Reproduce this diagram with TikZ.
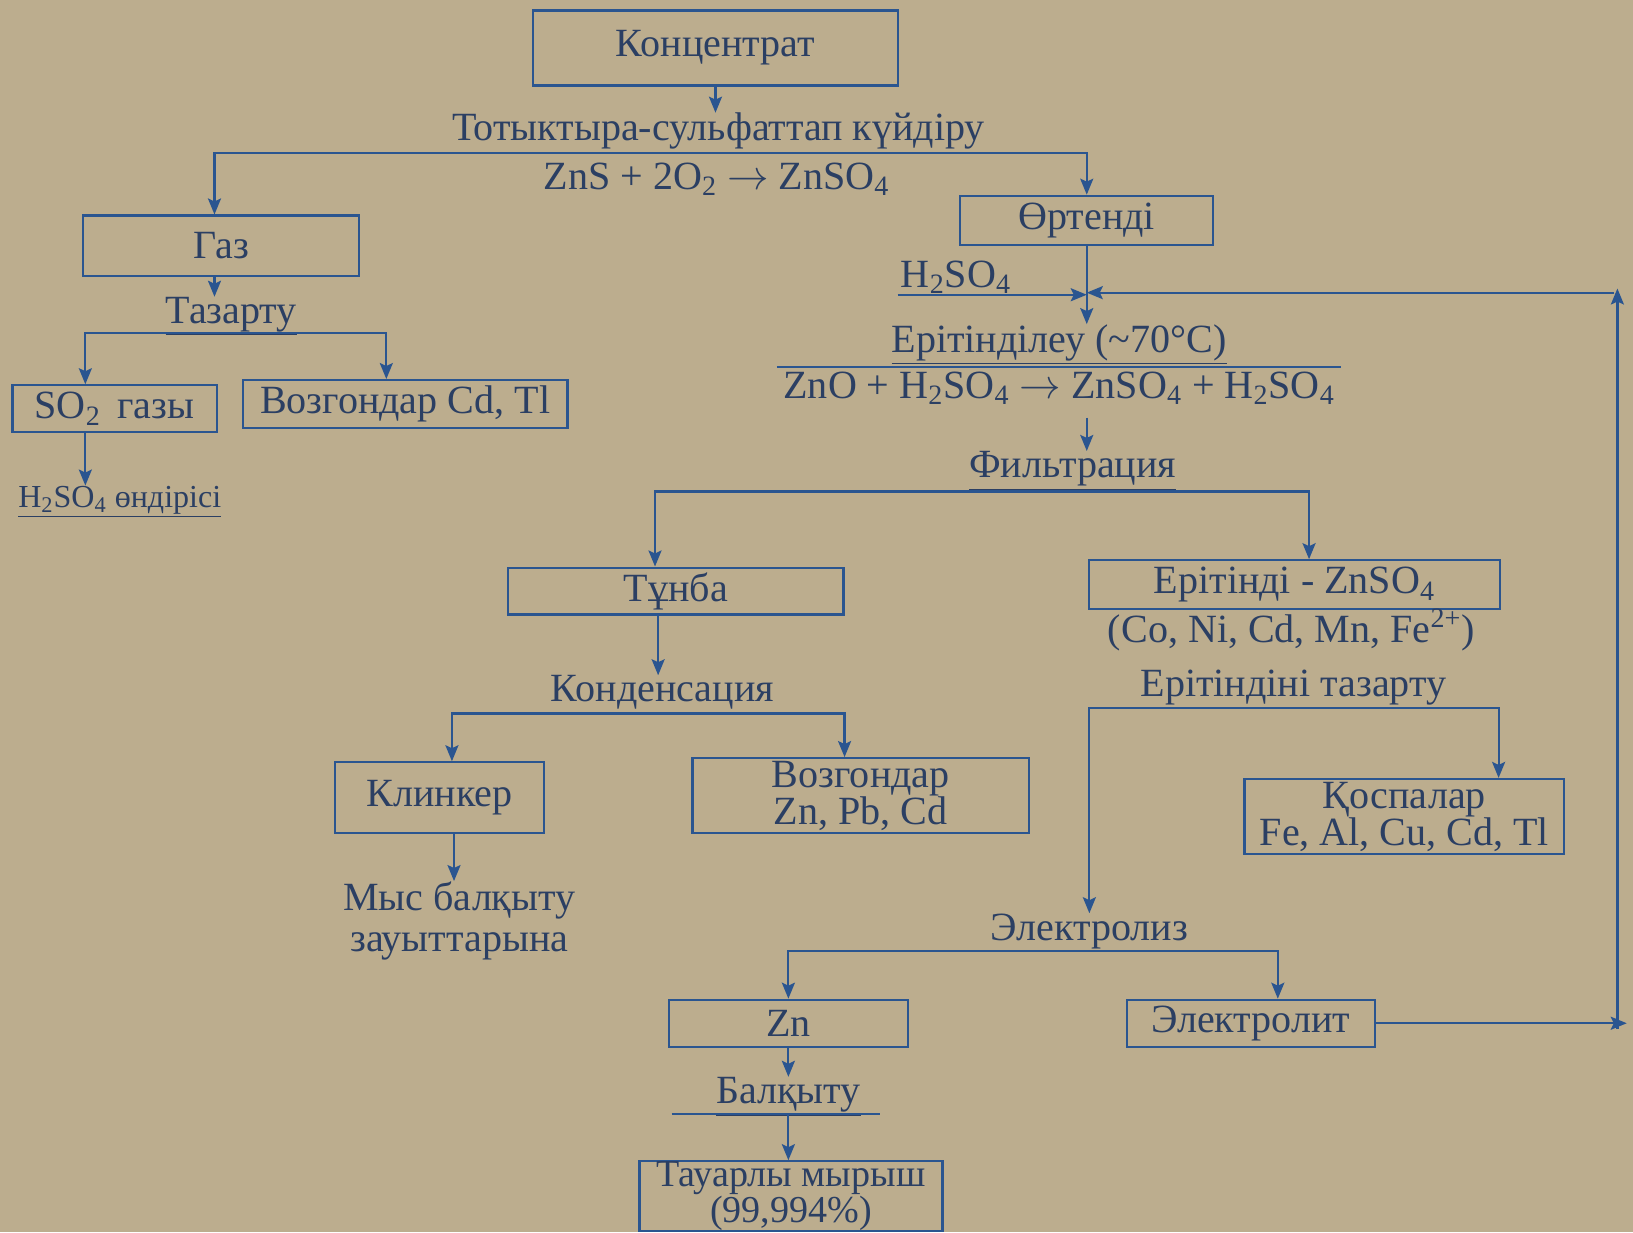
\documentclass[tikz,border=0pt]{standalone}
\usepackage{fontspec}
\setmainfont{Liberation Serif}
\usetikzlibrary{arrows.meta,calc}
\definecolor{bg}{HTML}{BCAD8E}
\definecolor{linec}{HTML}{2A5590}
\definecolor{textc}{HTML}{2B3F63}
\newcommand{\fsz}{\fontsize{20}{18.5}\selectfont}
\newcommand{\rarr}{$\rightarrow$}
\begin{document}
\begin{tikzpicture}[x=0.52pt,y=-0.52pt,
  box/.style={draw=linec, line width=1.1pt, inner sep=0pt, text=textc, font=\fsz, align=center},
  lbl/.style={text=textc, font=\fsz, inner sep=0pt, align=center},
  ln/.style={draw=linec, line width=1.1pt},
  arr/.style={ln, -{Stealth[length=8pt,width=6.5pt,inset=1.5pt]}},
]
\fill[bg] (0,0) rectangle (1568,1183);
\useasboundingbox (0,0) rectangle (1568,1183);

% top
\node[box, minimum width=182pt, minimum height=37.44pt] (konc) at (687,46) {Концентрат};
\node[lbl] (roast) at (690,128) {\underline{Тотыктыра-сульфаттап күйдіру}};
\node[lbl] (roasteq) at (688,172) {ZnS + 2O\textsubscript{2} \rarr{} ZnSO\textsubscript{4}};
\coordinate (j1) at (686,147);
\draw[arr] (konc.south) -- (konc.south |- roast.north);

% left branch
\node[box, minimum width=137.8pt, minimum height=30.16pt] (gas) at (212.5,236) {Газ};
\node[box, minimum width=126.36pt, minimum height=24.44pt] (ort) at (1043.5,211.5) {Өртенді};
\coordinate (gasT) at ($(gas.north west)+(127,0)$);
\coordinate (gasB) at ($(gas.south west)+(127,0)$);
\draw[arr] (j1) -| (gasT);
\draw[arr] (j1) -| (ort.north);

\node[lbl] (taz) at (222,304) {\underline{Тазарту}};
\draw[arr] (gasB) -- (gasB |- taz.north);
\coordinate (j2) at (222,320);
\node[box, minimum width=101.92pt, minimum height=23.4pt] (so2) at (110,392.5) {SO\textsubscript{2}\, газы};
\node[box, minimum width=162.24pt, minimum height=23.92pt] (voz1) at (389,388) {Возгондар Cd, Tl};
\coordinate (so2T) at ($(so2.north west)+(71,0)$);
\coordinate (so2B) at ($(so2.south west)+(71,0)$);
\coordinate (voz1T) at ($(voz1.north west)+(139,0)$);
\draw[arr] (j2) -| (so2T);
\draw[arr] (j2) -| (voz1T);
\node[lbl, font=\fontsize{16}{18}\selectfont] (prod) at (115,482) {\underline{H\textsubscript{2}SO\textsubscript{4} өндірісі}};
\draw[arr] (so2B) -- (so2B |- prod.north);

% leaching
\node[lbl] (h2so4) at (918,266) {H\textsubscript{2}SO\textsubscript{4}};
\node[lbl] (dis) at (1017,331) {\underline{Ерітінділеу (\textasciitilde70°C)}};
\node[lbl] (diseq) at (1017,373) {ZnO + H\textsubscript{2}SO\textsubscript{4} \rarr{} ZnSO\textsubscript{4} + H\textsubscript{2}SO\textsubscript{4}};
\draw[ln] (746,352) -- (1288,352);
\draw[arr] (ort.south) -- (ort.south |- dis.north);
\coordinate (h2l) at (862,283);
\draw[arr] (h2l) -- (ort.south |- h2l);

% filtration
\node[lbl] (filt) at (1030,452) {\underline{Фильтрация}};
\coordinate (eqB) at ($(ort.south |- diseq.south)+(0,12)$);
\draw[arr] (eqB) -- (eqB |- filt.north);
\coordinate (j3) at (1043,472);
\node[box, minimum width=167.44pt, minimum height=23.4pt] (tunba) at (649,567.5) {Тұнба};
\node[box, minimum width=204.88pt, minimum height=24.44pt] (erit) at (1243,561.5) {Ерітінді - ZnSO\textsubscript{4}};
\coordinate (tunT) at ($(tunba.north west)+(142,0)$);
\coordinate (tunB) at ($(tunba.south west)+(145,0)$);
\coordinate (eritT) at ($(erit.north west)+(212,0)$);
\draw[arr] (j3) -| (tunT);
\draw[arr] (j3) -| (eritT);
\node[lbl] (ions) at (1240,605) {(Co, Ni, Cd, Mn, Fe\textsuperscript{2+})};

% condensation
\node[lbl] (kond) at (636,667) {\underline{Конденсация}};
\draw[arr] (tunB) -- (tunB |- kond.north);
\coordinate (j4) at (633,685);
\node[box, minimum width=104pt, minimum height=35.36pt] (klin) at (422,766) {Клинкер};
\node[box, minimum width=167.96pt, minimum height=37.44pt] (voz2) at (826.5,764) {Возгондар\\Zn, Pb, Cd};
\coordinate (klinT) at ($(klin.north west)+(113,0)$);
\coordinate (klinB) at ($(klin.south west)+(115,0)$);
\coordinate (voz2T) at ($(voz2.north west)+(147,0)$);
\draw[arr] (j4) -| (klinT);
\draw[arr] (j4) -| (voz2T);
\node[lbl] (mys) at (441,884) {Мыс балқыту\\[2pt]зауыттарына};
\draw[arr] (klinB) -- (klinB |- mys.north);

% solution purification
\node[lbl] (puri) at (1242,662) {\underline{Ерітіндіні тазарту}};
\coordinate (j5) at (1242,680);
\node[box, minimum width=159.64pt, minimum height=37.44pt] (kosp) at (1348.5,784) {Қоспалар\\Fe, Al, Cu, Cd, Tl};
\coordinate (kospT) at ($(kosp.north west)+(245,0)$);
\node[lbl] (elz) at (1046,896) {\underline{Электролиз}};
\draw[arr] (j5) -| (elz.north);
\draw[arr] (j5) -| (kospT);

% electrolysis
\coordinate (j6) at (1046,913);
\node[box, minimum width=119.6pt, minimum height=23.4pt] (zn) at (757,982.5) {Zn};
\node[box, minimum width=123.76pt, minimum height=23.4pt] (elyt) at (1201,982.5) {Электролит};
\coordinate (elytT) at ($(elyt.north west)+(146,0)$);
\draw[arr] (j6) -| (zn.north);
\draw[arr] (j6) -| (elytT);

% recycle
\coordinate (rc) at (1553,988);
\coordinate (rtop) at (1553,277);
\coordinate (rin) at (1562,988);
\coordinate (rret) at (1550,281);
\draw[arr] (elyt.east) -- (elyt.east -| rin);
\draw[arr] (rc) -- (rtop);
\draw[arr] (rret) -- (ort.south |- rret);

% melting
\node[lbl] (balk) at (757,1053) {\underline{Балқыту}};
\draw[arr] (zn.south) -- (zn.south |- balk.north);
\draw[ln] (645,1070) -- (845,1070);
\coordinate (j7) at (757,1070);
\node[box, minimum width=151.32pt, minimum height=32.76pt, font=\fontsize{19}{15.5}\selectfont] (tau) at (759.5,1148.5) {Тауарлы мырыш\\(99,994\%)};
\draw[arr] (j7) -- (j7 |- tau.north);
\end{tikzpicture}
\end{document}
